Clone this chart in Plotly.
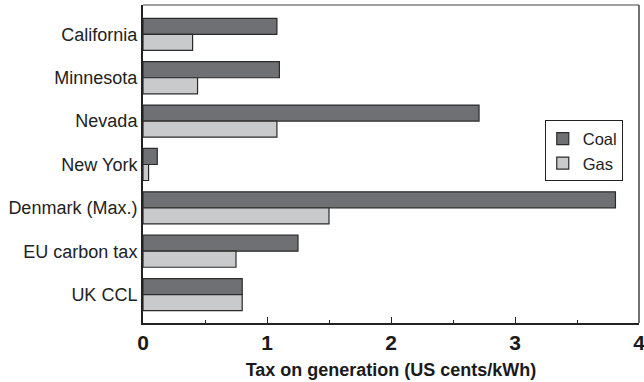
import plotly.graph_objects as go

# Tax on electricity generation by jurisdiction (US cents/kWh)
regions = ["California", "Minnesota", "Nevada", "New York",
           "Denmark (Max.)", "EU carbon tax", "UK CCL"]
coal = [1.08, 1.10, 2.71, 0.115, 3.81, 1.25, 0.80]
gas = [0.40, 0.44, 1.08, 0.045, 1.50, 0.75, 0.80]
x_ticks = [0, 1, 2, 3, 4]

FONT = "Arial, 'Liberation Sans', sans-serif"
EDGE = "#2b2b2b"

fig = go.Figure()
fig.add_trace(go.Bar(
    name="Coal", y=regions, x=coal, orientation="h",
    marker=dict(color="#6f7074", line=dict(color=EDGE, width=1.2)),
))
fig.add_trace(go.Bar(
    name="Gas", y=regions, x=gas, orientation="h",
    marker=dict(color="#c9cacc", line=dict(color=EDGE, width=1.2)),
))

fig.update_layout(
    width=644, height=382,
    margin=dict(l=143, r=5, t=5, b=59),
    paper_bgcolor="white", plot_bgcolor="white",
    barmode="group", bargap=0.26, bargroupgap=0,
    font=dict(family=FONT, size=18, color="#222"),
    legend=dict(
        x=0.81, y=0.637, xanchor="left", yanchor="top",
        bordercolor="#222", borderwidth=1, bgcolor="white",
        traceorder="normal", font=dict(size=16.5),
        itemwidth=30, tracegroupgap=0, indentation=-3,
    ),
    xaxis=dict(
        range=[0, 4], tickvals=x_ticks, ticktext=[str(v) for v in x_ticks],
        ticks="inside", ticklen=6, tickwidth=1.2, tickcolor="#222",
        minor=dict(dtick=0.5, ticks="inside", ticklen=3, tickcolor="#222"),
        tickfont=dict(family=FONT, size=21, color="#1a1a1a", weight="bold"),
        ticklabeloverflow="allow", automargin=False,
        showgrid=False, zeroline=False,
        showline=True, linecolor="#222", linewidth=2,
        title=dict(text="<b>Tax on generation (US cents/kWh)</b>",
                   font=dict(family=FONT, size=18, color="#1a1a1a"),
                   standoff=10),
    ),
    yaxis=dict(
        type="category", categoryorder="array", categoryarray=regions,
        range=[6.655, -0.677], automargin=False,
        showgrid=False, zeroline=False, ticks="",
        showline=True, linecolor="#222", linewidth=2,
        tickfont=dict(family=FONT, size=18, color="#222"),
    ),
)

# thin frame along the top and right of the plotting area
fig.add_shape(type="line", xref="paper", yref="paper", x0=0, x1=1, y0=1, y1=1,
              line=dict(color="#444", width=1.2))
fig.add_shape(type="line", xref="paper", yref="paper", x0=1, x1=1, y0=0, y1=1,
              line=dict(color="#444", width=1.5))

fig.write_html("out.html")
